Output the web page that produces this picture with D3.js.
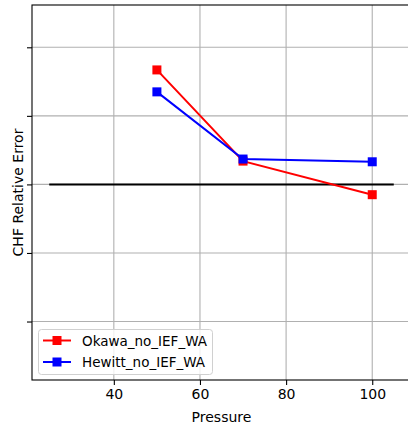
<!DOCTYPE html>
<html>
<head>
<meta charset="utf-8">
<script src="https://cdn.jsdelivr.net/npm/d3@7"></script>
<style>
  html, body { margin: 0; padding: 0; background: #fff; }
  svg { display: block; font-family: "DejaVu Sans", sans-serif; }
</style>
</head>
<body>
<svg id="chart" width="408" height="426"></svg>
<script>
// Pressure values and relative CHF errors per correlation
const pressure = [50, 70, 100];
const okawaErr = [0.167, 0.034, -0.015];
const hewittErr = [0.135, 0.037, 0.033];
const seriesNames = ["Okawa_no_IEF_WA", "Hewitt_no_IEF_WA"];
const seriesColors = ["#ff0000", "#0000ff"];
const xTicks = [40, 60, 80, 100];
const yTicks = [-0.2, -0.1, 0, 0.1, 0.2];
const refLineX = [25, 105];

const svg = d3.select("#chart");
const plotL = 32, plotT = 5, plotR = 411, plotB = 380;

const x = d3.scaleLinear().domain([21, 109]).range([plotL, plotR]);
const y = d3.scaleLinear().domain([-0.2853, 0.2617]).range([plotB, plotT]);

// grid
const grid = svg.append("g");
grid.selectAll("line.vx").data(xTicks).join("line")
  .attr("x1", d => x(d)).attr("x2", d => x(d))
  .attr("y1", plotT).attr("y2", plotB)
  .attr("stroke", "#b0b0b0").attr("stroke-width", 1.1);
grid.selectAll("line.hy").data(yTicks).join("line")
  .attr("x1", plotL).attr("x2", plotR)
  .attr("y1", d => y(d)).attr("y2", d => y(d))
  .attr("stroke", "#b0b0b0").attr("stroke-width", 1.1);

// zero reference line
svg.append("line")
  .attr("x1", x(refLineX[0])).attr("x2", x(refLineX[1]))
  .attr("y1", y(0)).attr("y2", y(0))
  .attr("stroke", "#000").attr("stroke-width", 2);

// series
const series = [okawaErr, hewittErr];
const line = d3.line().x((d, i) => x(pressure[i])).y(d => y(d));
series.forEach((vals, k) => {
  svg.append("path").datum(vals)
    .attr("d", line)
    .attr("fill", "none")
    .attr("stroke", seriesColors[k])
    .attr("stroke-width", 2);
  const ms = 9;
  svg.append("g").selectAll("rect").data(vals).join("rect")
    .attr("x", (d, i) => x(pressure[i]) - ms / 2)
    .attr("y", d => y(d) - ms / 2)
    .attr("width", ms).attr("height", ms)
    .attr("fill", seriesColors[k]);
});

// axes
const xAxis = svg.append("g").attr("transform", `translate(0,${plotB})`)
  .call(d3.axisBottom(x).tickValues(xTicks).tickSize(5).tickPadding(4));
const yAxis = svg.append("g").attr("transform", `translate(${plotL},0)`)
  .call(d3.axisLeft(y).tickValues(yTicks).tickSize(5).tickFormat(""));
[xAxis, yAxis].forEach(a => {
  a.select(".domain").remove();
  a.selectAll(".tick line").attr("stroke", "#000").attr("stroke-width", 1.1);
  a.selectAll(".tick text").attr("fill", "#000").style("font-size", "14px")
    .style("font-family", "DejaVu Sans");
});

// spines
svg.append("rect")
  .attr("x", plotL).attr("y", plotT)
  .attr("width", plotR - plotL).attr("height", plotB - plotT)
  .attr("fill", "none").attr("stroke", "#000").attr("stroke-width", 1.1);

// axis labels
svg.append("text")
  .attr("x", (plotL + plotR) / 2).attr("y", 422)
  .attr("text-anchor", "middle")
  .style("font-size", "14px").text("Pressure");
svg.append("text")
  .attr("transform", `translate(23,${(plotT + plotB) / 2}) rotate(-90)`)
  .attr("text-anchor", "middle")
  .style("font-size", "14px").text("CHF Relative Error");

// legend
const lg = svg.append("g");
lg.append("rect")
  .attr("x", 38.5).attr("y", 329.5).attr("width", 174).attr("height", 45)
  .attr("rx", 3)
  .attr("fill", "#fff").attr("fill-opacity", 0.8)
  .attr("stroke", "#d0d0d0").attr("stroke-width", 1);
seriesNames.forEach((name, k) => {
  const yy = 340.5 + k * 21.5;
  lg.append("line")
    .attr("x1", 43).attr("x2", 71).attr("y1", yy).attr("y2", yy)
    .attr("stroke", seriesColors[k]).attr("stroke-width", 2);
  lg.append("rect")
    .attr("x", 57 - 4.5).attr("y", yy - 4.5).attr("width", 9).attr("height", 9)
    .attr("fill", seriesColors[k]);
  lg.append("text")
    .attr("x", 82).attr("y", yy + 5)
    .style("font-size", "13.5px").text(name);
});
</script>
</body>
</html>
